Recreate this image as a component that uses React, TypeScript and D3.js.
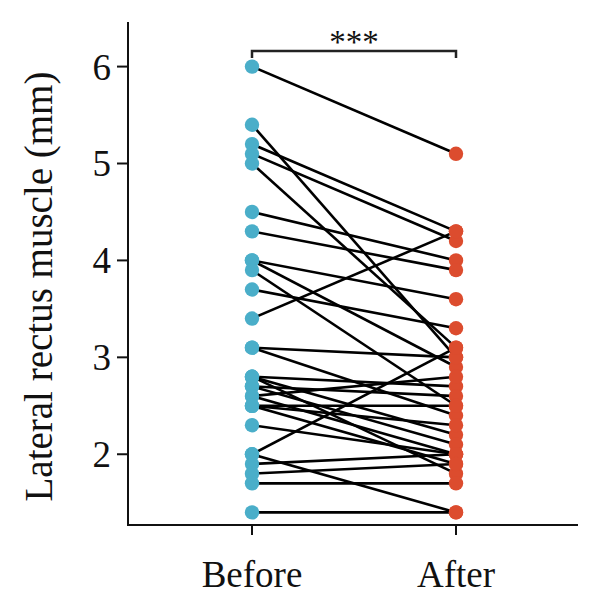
import * as d3 from 'd3';

// ── Data ──────────────────────────────────────────────────────────────────────
const GROUPS = ['Before', 'After'];
const BEFORE = [6.0, 5.4, 5.2, 5.1, 5.0, 4.5, 4.3, 4.0, 4.0, 3.9, 3.7, 3.4, 3.1, 3.1, 2.8, 2.8, 2.8, 2.7, 2.7, 2.6, 2.6, 2.5, 2.5, 2.5, 2.3, 2.0, 2.0, 1.9, 1.8, 1.7, 1.4];
const AFTER  = [5.1, 3.0, 4.3, 4.2, 3.1, 4.0, 3.9, 3.6, 2.9, 2.5, 3.3, 4.3, 3.0, 2.4, 2.7, 2.2, 1.8, 2.6, 2.1, 2.8, 2.0, 2.5, 1.9, 2.3, 2.0, 3.1, 1.4, 2.0, 1.9, 1.7, 1.4];
const Y_TICKS = [2, 3, 4, 5, 6];
const Y_TITLE = 'Lateral rectus muscle (mm)';
const SIG = '***';

// ── Layout ────────────────────────────────────────────────────────────────────
const W = 600;
const H = 609;
const AX_L = 128;
const AX_R = 578;
const AX_T = 22;
const AX_B = 525;

const BLUE = '#4aaec9';
const RED  = '#dc4c2e';
const FONT = '"Liberation Serif", "Times New Roman", serif';

const y = d3.scaleLinear().domain([1.27, 6.46]).range([AX_B, AX_T]);
const x = d3.scalePoint<string>().domain(GROUPS).range([252, 456]);

export default function App() {
  const xb = x('Before') ?? 0;
  const xa = x('After') ?? 0;
  const pairs = BEFORE.map((b, i) => ({ b, a: AFTER[i] }));
  const line = d3.line<[number, number]>();
  const bracketY = 51;

  return (
    <svg width={W} height={H} style={{ position: 'absolute', left: 0, top: 0, background: '#fff' }}>
      {/* axes */}
      <line x1={AX_L} x2={AX_L} y1={AX_T} y2={AX_B + 1} stroke="#111" strokeWidth={2} />
      <line x1={AX_L - 1} x2={AX_R} y1={AX_B} y2={AX_B} stroke="#111" strokeWidth={2} />

      {Y_TICKS.map(t => (
        <g key={t}>
          <line x1={AX_L - 11} x2={AX_L} y1={y(t)} y2={y(t)} stroke="#111" strokeWidth={2} />
          <text x={AX_L - 17} y={y(t)} dy="0.35em" textAnchor="end" fontSize={37} fontFamily={FONT} fill="#111">
            {t}
          </text>
        </g>
      ))}

      {GROUPS.map(g => (
        <g key={g}>
          <line x1={x(g)} x2={x(g)} y1={AX_B} y2={AX_B + 10} stroke="#111" strokeWidth={2} />
          <text x={x(g)} y={587} textAnchor="middle" fontSize={37} fontFamily={FONT} fill="#111">
            {g}
          </text>
        </g>
      ))}

      <text
        transform={`translate(52, ${(AX_T + AX_B) / 2 + 13}) rotate(-90)`}
        textAnchor="middle" fontSize={39} fontFamily={FONT} fill="#111"
      >
        {Y_TITLE}
      </text>

      {/* significance bracket */}
      <path
        d={`M${xb},${bracketY + 7}V${bracketY}H${xa}V${bracketY + 7}`}
        fill="none" stroke="#222" strokeWidth={2.5}
      />
      <text x={(xb + xa) / 2} y={53} textAnchor="middle" fontSize={33} fontFamily={FONT} fill="#111">
        {SIG}
      </text>

      {/* paired lines */}
      {pairs.map((p, i) => (
        <path
          key={i}
          d={line([[xb, y(p.b)], [xa, y(p.a)]]) ?? ''}
          stroke="#000" strokeWidth={2.6} fill="none"
        />
      ))}

      {/* points */}
      {pairs.map((p, i) => (
        <g key={`p${i}`}>
          <circle cx={xb} cy={y(p.b)} r={7.2} fill={BLUE} />
          <circle cx={xa} cy={y(p.a)} r={7.2} fill={RED} />
        </g>
      ))}
    </svg>
  );
}
